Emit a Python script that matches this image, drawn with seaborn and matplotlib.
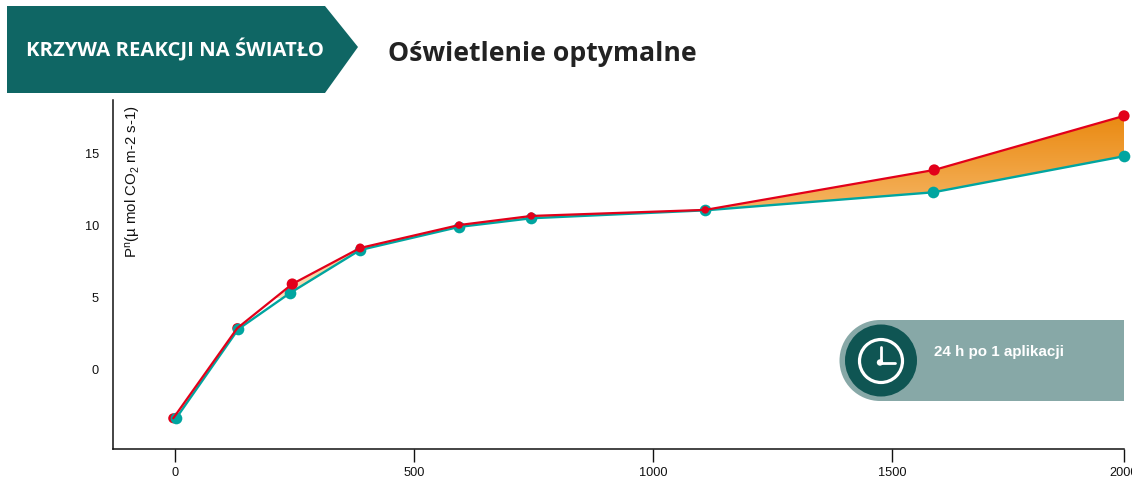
import numpy as np
import pandas as pd
import matplotlib
matplotlib.use('Agg')
import matplotlib.pyplot as plt
from matplotlib.colors import LinearSegmentedColormap
from matplotlib.patches import Polygon, Circle, Rectangle
import seaborn as sns

W, H = 1132, 486

# values
light_red = [-4, 130, 245, 387, 594, 745, 1109, 1588, 1985]
pn_red = [-3.37, 2.88, 5.94, 8.44, 10.03, 10.66, 11.08, 13.85, 17.6]
light_teal = [2, 132, 240, 387, 594, 745, 1109, 1586, 1985]
pn_teal = [-3.37, 2.81, 5.31, 8.3, 9.9, 10.5, 11.05, 12.3, 14.8]

x_ticks = [0, 500, 1000, 1500, 1985]
x_tick_labels = ['0', '500', '1000', '1500', '2000']
y_ticks = [0, 5, 10, 15]

header = 'KRZYWA REAKCJI NA ŚWIATŁO'
title = 'Oświetlenie optymalne'
badge = '24 h po 1 aplikacji'
y_label = 'P$^{\\mathregular{n}}$(µ mol CO$_{\\mathregular{2}}$ m-2 s-1)'

RED = '#E2001A'
TEAL = '#00A5A0'
GREEN = '#0F6664'

sns.set_theme(style='white')
plt.rcParams['font.family'] = ['Liberation Sans', 'DejaVu Sans']
plt.rcParams['mathtext.fontset'] = 'custom'
plt.rcParams['mathtext.rm'] = 'Liberation Sans'
plt.rcParams['mathtext.default'] = 'regular'

fig = plt.figure(figsize=(W / 100, H / 100), dpi=100)
ax = fig.add_axes([113 / W, 1 - 449 / H, (1124 - 113) / W, (449 - 100) / H])

red = pd.DataFrame({'light': light_red, 'pn': pn_red})
teal = pd.DataFrame({'light': light_teal, 'pn': pn_teal})
# red dots are not all the same size in the original
red['size'] = [52, 52, 65, 42, 29, 29, 29, 65, 65]

# gradient between the two curves
cmap = LinearSegmentedColormap.from_list('fill', ['#FBE3BE', '#F5B35F', '#EA8A12'])
grad = np.linspace(1, 0, 256).reshape(-1, 1)
img = ax.imshow(grad, cmap=cmap, aspect='auto', zorder=1, extent=[-130, 1985, 5, 17.6], interpolation='bilinear')
poly = Polygon(list(zip(light_red, pn_red)) + list(zip(light_red, pn_teal))[::-1],
               transform=ax.transData, facecolor='none', edgecolor='none')
ax.add_patch(poly)
img.set_clip_path(poly)

# first two red dots sit under the teal ones, the rest on top
low = red.iloc[:2]
high = red.iloc[2:]
ax.scatter(low['light'], low['pn'], color=RED, s=low['size'], linewidths=0, zorder=2, clip_on=False)
sns.lineplot(data=teal, x='light', y='pn', color=TEAL, lw=1.7, marker='o', markersize=8.4,
             markeredgewidth=0, ax=ax, zorder=3, clip_on=False)
sns.lineplot(data=red, x='light', y='pn', color=RED, lw=1.6, ax=ax, zorder=4, clip_on=False)
ax.scatter(high['light'], high['pn'], color=RED, s=high['size'], linewidths=0, zorder=5, clip_on=False)

ax.set_xlim(-130, 1985)
ax.set_ylim(-5.5, 18.7)
ax.set_xticks(x_ticks, x_tick_labels)
ax.set_yticks(y_ticks)
ax.tick_params(axis='x', length=9, width=1, color='#111111', labelsize=9.2, labelcolor='#111111', pad=4, bottom=True)
ax.tick_params(axis='y', length=0, labelsize=9.2, labelcolor='#111111', pad=10)
sns.despine(ax=ax)
for side in ['left', 'bottom']:
    ax.spines[side].set_color('#111111')
    ax.spines[side].set_linewidth(1.1)
ax.set_xlabel('')
ax.set_ylabel(y_label, fontsize=10.8, color='#111111')
ax.yaxis.set_label_coords((143 - 113) / (1124 - 113), 1 - (182 - 100) / 349)

# overlay in pixel coordinates for the header and the badge
ov = fig.add_axes([0, 0, 1, 1], zorder=5)
ov.set_xlim(0, W)
ov.set_ylim(H, 0)
ov.axis('off')
ov.patch.set_alpha(0)

ov.add_patch(Polygon([(7, 6), (325, 6), (358, 47), (325, 93), (7, 93)], facecolor=GREEN, edgecolor='none'))
ov.text(26, 50, header, color='white', fontsize=14.6, fontweight='bold', family='Open Sans', va='center')
ov.text(388, 54, title, color='#222222', fontsize=19.2, fontweight='bold', family='Open Sans', va='center')

ov.add_patch(Rectangle((880, 320), 244, 81, facecolor='#87A8A7', edgecolor='none'))
ov.add_patch(Circle((880, 360.5), 40.5, facecolor='#87A8A7', edgecolor='none'))
ov.add_patch(Circle((881, 360.5), 36, facecolor='#0F5553', edgecolor='none'))
ov.add_patch(Circle((881, 361), 21.5, facecolor='none', edgecolor='white', lw=2.3))
ov.add_patch(Circle((880, 362.5), 3.2, facecolor='white', edgecolor='none'))
ov.plot([881, 881], [347, 362.5], color='white', lw=2, solid_capstyle='round')
ov.plot([881, 895], [362.5, 362.5], color='white', lw=2, solid_capstyle='round')
ov.text(934, 352, badge, color='white', fontsize=10.9, fontweight='bold', va='center')

fig.savefig('out.png', dpi=100)
